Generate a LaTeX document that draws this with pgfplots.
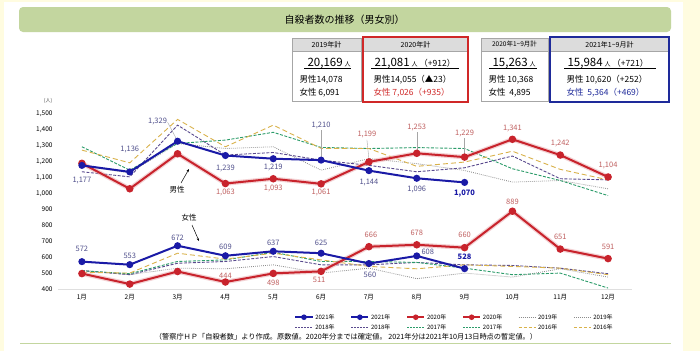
\documentclass[border=0pt]{standalone}
\usepackage{pgfplots}
\pgfplotsset{compat=1.18}
\usetikzlibrary{arrows.meta}
\usepackage{fontspec}
\setmainfont{Noto Sans CJK JP}
\definecolor{bgY}{HTML}{FFFCE0}
\definecolor{barG}{HTML}{C3D69F}
\definecolor{c21}{HTML}{1A1AA6}
\definecolor{c20}{HTML}{C8232C}
\definecolor{c19}{HTML}{8C8C8C}
\definecolor{c18}{HTML}{5A4A8E}
\definecolor{c17}{HTML}{2C9C6A}
\definecolor{c16}{HTML}{D9B24A}
\definecolor{lblB}{HTML}{50508C}
\definecolor{lblR}{HTML}{C06060}
\definecolor{hdrG}{HTML}{DCDCDC}
\definecolor{boxR}{HTML}{D02828}
\definecolor{boxB}{HTML}{1E2A9A}
\tikzset{
  lb/.style={font=\fontsize{7.5}{8}\selectfont, text=lblB, inner sep=0pt},
  lr/.style={font=\fontsize{7.5}{8}\selectfont, text=lblR, inner sep=0pt},
}
\begin{document}
\begin{tikzpicture}
\begin{scope}[x=1pt,y=-1pt]
\fill[bgY] (0,0) rectangle (700,351);
\fill[white] (4,2) rectangle (683,351);
\fill[barG, rounded corners=4pt] (19,7) rectangle (671,32);
\node[font=\fontsize{10}{12}\selectfont] at (344.5,19.5) {自殺者数の推移（男女別）};
% box 1
\draw[gray!70, fill=white] (292,38) rectangle (361,101);
\fill[hdrG] (292.5,38.5) rectangle (360.5,51);
\draw[gray!70] (292,51) -- (361,51);
\node[font=\fontsize{7}{8}\selectfont] at (326.5,44.5) {2019年計};
\node[font=\fontsize{11.5}{12}\selectfont, anchor=base west] at (304,66) {20,169\,{\fontsize{6}{7}\selectfont 人}};
\draw[black, line width=0.6pt] (304,68.5) -- (351,68.5);
\node[font=\fontsize{8.5}{9}\selectfont, anchor=base west] at (296,82) {男性14,078};
\node[font=\fontsize{8.5}{9}\selectfont, anchor=base west] at (296,95) {女性\ 6,091};
% box 2
\draw[boxR, line width=1.5pt, fill=white] (363,37) rectangle (468,102);
\fill[hdrG] (364,38) rectangle (467,51);
\draw[gray!70] (364,51) -- (467,51);
\node[font=\fontsize{7}{8}\selectfont] at (415.5,44.5) {2020年計};
\node[font=\fontsize{11.5}{12}\selectfont, anchor=base west] at (371,66) {21,081\,{\fontsize{6}{7}\selectfont 人}\,{\fontsize{8.5}{9}\selectfont （+912）}};
\draw[black, line width=0.6pt] (371,68.5) -- (459,68.5);
\node[font=\fontsize{8.5}{9}\selectfont, anchor=base west] at (370,82) {男性14,055（▲23）};
\node[font=\fontsize{8.5}{9}\selectfont, anchor=base west, text=boxR] at (370,95) {女性\ 7,026（+935）};
% box 3
\draw[gray!70, fill=white] (481,38) rectangle (548,101);
\fill[hdrG] (481.5,38.5) rectangle (547.5,51);
\draw[gray!70] (481,51) -- (548,51);
\node[font=\fontsize{6.5}{7}\selectfont] at (514.5,44.5) {2020年1\textasciitilde 9月計};
\node[font=\fontsize{11.5}{12}\selectfont, anchor=base west] at (489,66) {15,263\,{\fontsize{6}{7}\selectfont 人}};
\draw[black, line width=0.6pt] (489,68.5) -- (537,68.5);
\node[font=\fontsize{8.5}{9}\selectfont, anchor=base west] at (485,82) {男性\ 10,368};
\node[font=\fontsize{8.5}{9}\selectfont, anchor=base west] at (485,95) {女性\ \ 4,895};
% box 4
\draw[boxB, line width=1.5pt, fill=white] (550,37) rectangle (669,102);
\fill[hdrG] (551,38) rectangle (668,51);
\draw[gray!70] (551,51) -- (668,51);
\node[font=\fontsize{7}{8}\selectfont] at (609.5,44.5) {2021年1\textasciitilde 9月計};
\node[font=\fontsize{11.5}{12}\selectfont, anchor=base west] at (564,66) {15,984\,{\fontsize{6}{7}\selectfont 人}\,{\fontsize{8.5}{9}\selectfont （+721）}};
\draw[black, line width=0.6pt] (564,68.5) -- (656,68.5);
\node[font=\fontsize{8.5}{9}\selectfont, anchor=base west] at (563,82) {男性\ 10,620（+252）};
\node[font=\fontsize{8.5}{9}\selectfont, anchor=base west, text=boxB] at (563,95) {女性\ \ 5,364（+469）};
% misc
\node[font=\fontsize{5}{6}\selectfont, text=black!70] at (48,101) {(人)};
\draw[barG, line width=1.5pt] (20,343.5) -- (671,343.5);
\node[font=\fontsize{7.2}{8}\selectfont] at (346,336.5) {（警察庁ＨＰ「自殺者数」より作成。原数値。2020年分までは確定値。 2021年分は2021年10月13日時点の暫定値。）};
\end{scope}
\begin{axis}[
  at={(58pt,-289pt)}, anchor=south west,
  scale only axis, width=574pt, height=175pt,
  xmin=0.5, xmax=12.5, ymin=400, ymax=1500,
  clip=false,
  axis line style={draw=none},
  major tick length=0pt,
  xtick={1,2,3,4,5,6,7,8,9,10,11,12},
  xticklabels={1月,2月,3月,4月,5月,6月,7月,8月,9月,10月,11月,12月},
  xticklabel style={font=\fontsize{6.5}{7}\selectfont, yshift=-2pt},
  ytick={400,500,600,700,800,900,1000,1100,1200,1300,1400,1500},
  yticklabel style={font=\fontsize{6.5}{7}\selectfont, xshift=-2pt},
  /pgf/number format/1000 sep={,},
  /pgf/number format/assume math mode=true,
  legend columns=6,
  legend style={at={(0.412,-0.13)}, anchor=north west, draw=none, fill=none,
    font=\fontsize{6}{7}\selectfont, inner sep=0pt, row sep=0pt,
    /tikz/every even column/.append style={column sep=14pt}},
]
\draw[gray!25] (axis cs:0.5,400) -- (axis cs:12.5,400);
% --- past years, male
\addplot[c19, line width=0.8pt, dash pattern=on 0.8pt off 1.2pt, forget plot] coordinates {(1,1173)(2,1130)(3,1315)(4,1283)(5,1294)(6,1147)(7,1219)(8,1188)(9,1145)(10,1072)(11,1082)(12,1030)};
\addplot[c18, line width=0.9pt, dash pattern=on 3pt off 1.5pt, forget plot] coordinates {(1,1137)(2,1105)(3,1430)(4,1242)(5,1258)(6,1210)(7,1177)(8,1137)(9,1162)(10,1236)(11,1093)(12,1086)};
\addplot[c17, line width=0.9pt, dash pattern=on 3pt off 1.5pt, forget plot] coordinates {(1,1294)(2,1147)(3,1315)(4,1336)(5,1385)(6,1290)(7,1283)(8,1289)(9,1283)(10,1156)(11,1082)(12,987)};
\addplot[c16, line width=0.9pt, dash pattern=on 5pt off 3pt, forget plot] coordinates {(1,1273)(2,1193)(3,1466)(4,1294)(5,1430)(6,1284)(7,1283)(8,1171)(9,1198)(10,1266)(11,1152)(12,1086)};
% --- past years, female
\addplot[c19, line width=0.8pt, dash pattern=on 0.8pt off 1.2pt, forget plot] coordinates {(1,518)(2,490)(3,531)(4,527)(5,552)(6,500)(7,531)(8,465)(9,500)(10,475)(11,527)(12,475)};
\addplot[c18, line width=0.9pt, dash pattern=on 3pt off 1.5pt, forget plot] coordinates {(1,515)(2,490)(3,562)(4,573)(5,604)(6,552)(7,552)(8,567)(9,552)(10,548)(11,531)(12,496)};
\addplot[c17, line width=0.9pt, dash pattern=on 3pt off 1.5pt, forget plot] coordinates {(1,515)(2,496)(3,573)(4,583)(5,631)(6,573)(7,573)(8,567)(9,531)(10,490)(11,500)(12,406)};
\addplot[c16, line width=0.9pt, dash pattern=on 5pt off 3pt, forget plot] coordinates {(1,505)(2,500)(3,625)(4,588)(5,625)(6,583)(7,542)(8,527)(9,552)(10,542)(11,531)(12,490)};
% --- 2020 glow
\addplot[c20!40, line width=4.5pt, opacity=0.5, forget plot] coordinates {(1,1190)(2,1030)(3,1250)(4,1063)(5,1093)(6,1061)(7,1199)(8,1253)(9,1229)(10,1341)(11,1242)(12,1104)};
\addplot[c20!40, line width=4.5pt, opacity=0.5, forget plot] coordinates {(1,497)(2,431)(3,510)(4,444)(5,498)(6,511)(7,666)(8,678)(9,660)(10,889)(11,651)(12,591)};
% --- 2020
\addplot[c20, line width=2pt, mark=*, mark size=2.7pt, forget plot] coordinates {(1,1190)(2,1030)(3,1250)(4,1063)(5,1093)(6,1061)(7,1199)(8,1253)(9,1229)(10,1341)(11,1242)(12,1104)};
\addplot[c20, line width=2pt, mark=*, mark size=2.7pt, forget plot] coordinates {(1,497)(2,431)(3,510)(4,444)(5,498)(6,511)(7,666)(8,678)(9,660)(10,889)(11,651)(12,591)};
% --- 2021
\addplot[c21, line width=2pt, mark=*, mark size=2.5pt, forget plot] coordinates {(1,1177)(2,1136)(3,1329)(4,1239)(5,1219)(6,1210)(7,1144)(8,1096)(9,1070)};
\addplot[c21, line width=2pt, mark=*, mark size=2.5pt, forget plot] coordinates {(1,572)(2,553)(3,672)(4,609)(5,637)(6,625)(7,560)(8,608)(9,528)};
% legend
\addlegendimage{c21, line width=1.5pt, mark=*, mark size=2pt}
\addlegendimage{c21, line width=1.5pt, mark=*, mark size=2pt}
\addlegendimage{c20, line width=1.5pt, mark=*, mark size=2pt}
\addlegendimage{c20, line width=1.5pt, mark=*, mark size=2pt}
\addlegendimage{c19, line width=0.7pt, dash pattern=on 0.8pt off 1.2pt}
\addlegendimage{c19, line width=0.7pt, dash pattern=on 0.8pt off 1.2pt}
\addlegendimage{c18, line width=0.8pt, dash pattern=on 2pt off 1pt}
\addlegendimage{c18, line width=0.8pt, dash pattern=on 2pt off 1pt}
\addlegendimage{c17, line width=0.8pt, dash pattern=on 2pt off 1pt}
\addlegendimage{c17, line width=0.8pt, dash pattern=on 2pt off 1pt}
\addlegendimage{c16, line width=0.8pt, dash pattern=on 3pt off 2pt}
\addlegendimage{c16, line width=0.8pt, dash pattern=on 3pt off 2pt}
\legend{2021年,2021年,2020年,2020年,2019年,2019年,2018年,2018年,2017年,2017年,2016年,2016年}
% --- labels male 2021
\node[lb, yshift=-15.5pt] at (axis cs:1,1177) {1,177};
\node[lb, yshift=22pt] at (axis cs:2,1136) {1,136};
\node[lb, yshift=20pt, xshift=-20pt] at (axis cs:3,1329) {1,329};
\draw[gray!70, thin] ([xshift=-10pt,yshift=19pt]axis cs:3,1329) -- ([xshift=-1pt,yshift=2pt]axis cs:3,1329);
\node[lb, yshift=-12.5pt] at (axis cs:4,1239) {1,239};
\node[lb, yshift=-8.5pt] at (axis cs:5,1219) {1,219};
\node[lb, yshift=35pt] at (axis cs:6,1210) {1,210};
\draw[gray!70, thin] ([yshift=30pt]axis cs:6,1210) -- ([yshift=3pt]axis cs:6,1210);
\node[lb, yshift=-11.5pt] at (axis cs:7,1144) {1,144};
\node[lb, yshift=-11pt] at (axis cs:8,1096) {1,096};
\node[lb, yshift=-11pt, text=c21, font=\fontsize{7.5}{8}\selectfont\bfseries] at (axis cs:9,1070) {1,070};
% --- labels male 2020
\node[lr, yshift=-8.5pt] at (axis cs:4,1063) {1,063};
\node[lr, yshift=-9.5pt] at (axis cs:5,1093) {1,093};
\node[lr, yshift=-9pt] at (axis cs:6,1061) {1,061};
\node[lr, yshift=27pt, xshift=-2pt] at (axis cs:7,1199) {1,199};
\draw[gray!70, thin] ([xshift=-2pt,yshift=22pt]axis cs:7,1199) -- ([yshift=3pt]axis cs:7,1199);
\node[lr, yshift=26pt] at (axis cs:8,1253) {1,253};
\draw[gray!70, thin] ([yshift=21pt]axis cs:8,1253) -- ([yshift=3pt]axis cs:8,1253);
\node[lr, yshift=24pt] at (axis cs:9,1229) {1,229};
\draw[gray!70, thin] ([yshift=19pt]axis cs:9,1229) -- ([yshift=3pt]axis cs:9,1229);
\node[lr, yshift=11pt] at (axis cs:10,1341) {1,341};
\node[lr, yshift=12pt] at (axis cs:11,1242) {1,242};
\node[lr, yshift=12pt] at (axis cs:12,1104) {1,104};
% --- labels female 2021
\node[lb, yshift=12.5pt] at (axis cs:1,572) {572};
\node[lb, yshift=8.5pt] at (axis cs:2,553) {553};
\node[lb, yshift=7.5pt] at (axis cs:3,672) {672};
\node[lb, yshift=9pt] at (axis cs:4,609) {609};
\node[lb, yshift=8.5pt] at (axis cs:5,637) {637};
\node[lb, yshift=10pt] at (axis cs:6,625) {625};
\node[lb, yshift=-11.5pt, xshift=1pt] at (axis cs:7,560) {560};
\node[lb, yshift=4pt, xshift=11pt] at (axis cs:8,608) {608};
\node[lb, yshift=11.5pt, text=c21, font=\fontsize{7.5}{8}\selectfont\bfseries] at (axis cs:9,528) {528};
% --- labels female 2020
\node[lr, yshift=6pt] at (axis cs:4,444) {444};
\node[lr, yshift=-9.5pt] at (axis cs:5,498) {498};
\node[lr, yshift=-9pt, xshift=-2pt] at (axis cs:6,511) {511};
\node[lr, yshift=12pt, xshift=2pt] at (axis cs:7,666) {666};
\node[lr, yshift=12pt] at (axis cs:8,678) {678};
\node[lr, yshift=12.5pt] at (axis cs:9,660) {660};
\node[lr, yshift=9pt] at (axis cs:10,889) {889};
\node[lr, yshift=12pt] at (axis cs:11,651) {651};
\node[lr, yshift=11.5pt] at (axis cs:12,591) {591};
\end{axis}
\begin{scope}[x=1pt,y=-1pt]
\node[font=\fontsize{7.5}{8}\selectfont] at (177,190) {男性};
\draw[-{Stealth[length=3pt,width=2.5pt]}, line width=0.5pt] (181,183) -- (189,169);
\node[font=\fontsize{7.5}{8}\selectfont] at (189,218) {女性};
\draw[-{Stealth[length=3pt,width=2.5pt]}, line width=0.5pt] (192,225) -- (199,241);
\end{scope}
\end{tikzpicture}
\end{document}
